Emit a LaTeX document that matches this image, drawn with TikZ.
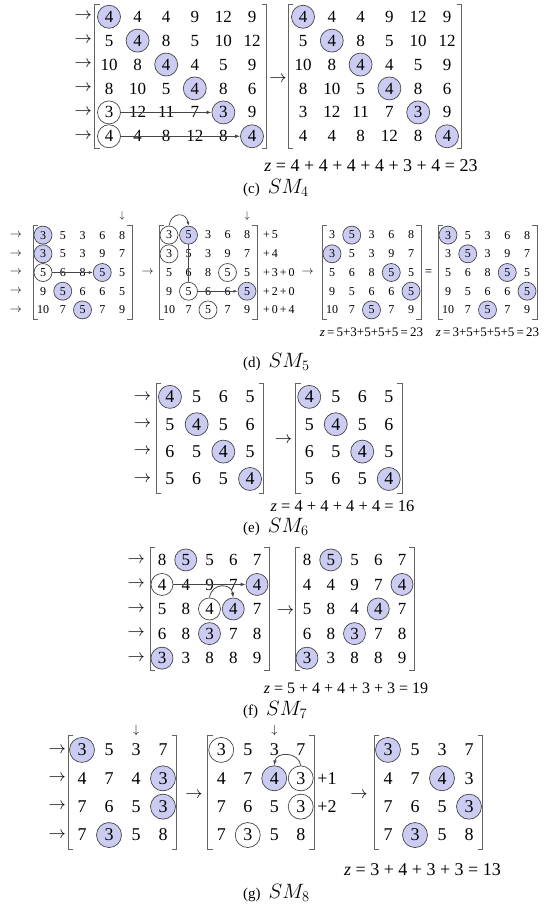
\documentclass[tikz,border=0pt]{standalone}
\usepackage{fontspec}
\setmainfont{Liberation Serif}
\usepackage{xcolor}
\definecolor{smblue}{RGB}{204,204,242}
\definecolor{smring}{RGB}{70,70,70}
\definecolor{smgrey}{RGB}{100,100,100}
\usepackage{tikz}
\usetikzlibrary{matrix,arrows.meta,positioning}
\newcommand{\mbrackets}[1]{%
  \draw[brk] ([xshift=5pt]#1.north west) -- (#1.north west) -- (#1.south west) -- ([xshift=5pt]#1.south west);
  \draw[brk] ([xshift=-5pt]#1.north east) -- (#1.north east) -- (#1.south east) -- ([xshift=-5pt]#1.south east);}
\newcommand{\smname}[1]{{\fontsize{20}{20}\selectfont$SM_{#1}$}}
\tikzset{
  csize/.style={minimum size=20pt},
  mat/.style n args={4}{matrix of nodes, inner sep=0pt, column sep=0pt, row sep=0pt,
    nodes={minimum width=#1, minimum height=#2, inner sep=0pt, font=\fontsize{#4}{#4}\selectfont},
    csize/.style={minimum size=#3}},
  hl/.style={circle, draw=smring, fill=smblue, line width=0.7pt, csize},
  ring/.style={circle, draw=smring, line width=0.7pt, csize},
  brk/.style={draw=smgrey, line width=0.8pt},
  txt/.style={inner sep=0pt, font=\fontsize{#1}{#1}\selectfont},
  subcap/.style={anchor=west, inner sep=0pt, font=\fontsize{15}{15}\selectfont},
  arr/.style={-{Latex[length=5pt,width=3.6pt]}, draw=smring, line width=0.8pt},
  arrs/.style={-{Latex[length=4pt,width=3pt]}, draw=smring, line width=0.7pt},
  lnk/.style={draw=smring, line width=0.7pt}
}

\begin{document}
\begin{tikzpicture}[x=1pt, y=-1pt]
  \useasboundingbox (0,0) rectangle (554,905);
  % (c) SM_4
  \matrix[mat={28.6pt}{23.8pt}{23pt}{17}] (c1) at (180.5,76.5) {
    |[hl]|4 & 4 & 4 & 9 & 12 & 9 \\
    5 & |[hl]|4 & 8 & 5 & 10 & 12 \\
    10 & 8 & |[hl]|4 & 4 & 5 & 9 \\
    8 & 10 & 5 & |[hl]|4 & 8 & 6 \\
    |[ring]|3 & 12 & 11 & 7 & |[hl]|3 & 9 \\
    |[ring]|4 & 4 & 8 & 12 & 8 & |[hl]|4 \\
  };
  \matrix[mat={28.8pt}{23.8pt}{23pt}{17}] (c2) at (375,76.5) {
    |[hl]|4 & 4 & 4 & 9 & 12 & 9 \\
    5 & |[hl]|4 & 8 & 5 & 10 & 12 \\
    10 & 8 & |[hl]|4 & 4 & 5 & 9 \\
    8 & 10 & 5 & |[hl]|4 & 8 & 6 \\
    3 & 12 & 11 & 7 & |[hl]|3 & 9 \\
    4 & 4 & 8 & 12 & 8 & |[hl]|4 \\
  };
  \mbrackets{c1}
  \mbrackets{c2}
  \foreach \r in {1,...,6}
    \node[txt=17] (cm\r) at ([xshift=-11.2pt]c1.west |- c1-\r-1) {$\rightarrow$};
  \node[txt=17] (cto) at (278,79) {$\rightarrow$};
  \draw[arr] (c1-5-1) -- (c1-5-5);
  \draw[arr] (c1-6-1) -- (c1-6-6);
  \node[txt=18] (cz) at (371,166) {\textit{z} = 4 + 4 + 4 + 4 + 3 + 4 = 23};
  \node[subcap] (ccap) at (243,188) {(c)\hspace{8pt}\smname{4}};

  % (d) SM_5
  \matrix[mat={19.75pt}{18.25pt}{18pt}{12}] (d1) at (82.5,272.5) {
    |[hl]|3 & 5 & 3 & 6 & 8 \\
    |[hl]|3 & 5 & 3 & 9 & 7 \\
    |[ring]|5 & 6 & 8 & |[hl]|5 & 5 \\
    9 & |[hl]|5 & 6 & 6 & 5 \\
    10 & 7 & |[hl]|5 & 7 & 9 \\
  };
  \matrix[mat={19.5pt}{18.25pt}{18pt}{12}] (d2) at (208,272.5) {
    |[ring]|3 & |[hl]|5 & 3 & 6 & 8 \\
    |[ring]|3 & 5 & 3 & 9 & 7 \\
    5 & 6 & 8 & |[ring]|5 & 5 \\
    9 & |[ring]|5 & 6 & 6 & |[hl]|5 \\
    10 & 7 & |[ring]|5 & 7 & 9 \\
  };
  \matrix[mat={19.75pt}{18.25pt}{18pt}{12}] (d3) at (371.5,272.5) {
    3 & |[hl]|5 & 3 & 6 & 8 \\
    |[hl]|3 & 5 & 3 & 9 & 7 \\
    5 & 6 & 8 & |[hl]|5 & 5 \\
    9 & 5 & 6 & 6 & |[hl]|5 \\
    10 & 7 & |[hl]|5 & 7 & 9 \\
  };
  \matrix[mat={19.75pt}{18.25pt}{18pt}{12}] (d4) at (487.5,272.5) {
    |[hl]|3 & 5 & 3 & 6 & 8 \\
    3 & |[hl]|5 & 3 & 9 & 7 \\
    5 & 6 & 8 & |[hl]|5 & 5 \\
    9 & 5 & 6 & 6 & |[hl]|5 \\
    10 & 7 & |[hl]|5 & 7 & 9 \\
  };
  \mbrackets{d1}
  \mbrackets{d2}
  \mbrackets{d3}
  \mbrackets{d4}
  \foreach \r in {1,...,5}
    \node[txt=12] (dm\r) at ([xshift=-17pt]d1.west |- d1-\r-1) {$\rightarrow$};
  \node[txt=10] (dv1) at ([yshift=10pt]d1-1-5.north) {$\downarrow$};
  \node[txt=10] (dv2) at ([yshift=10pt]d2-1-5.north) {$\downarrow$};
  \node[txt=12] (dto1) at (147.5,272.5) {$\rightarrow$};
  \node[txt=12, anchor=west] (dp1) at ([xshift=6pt]d2.east |- d2-1-5) {+\,5};
  \node[txt=12, anchor=west] (dp2) at ([xshift=6pt]d2.east |- d2-2-5) {+\,4};
  \node[txt=12, anchor=west] (dp3) at ([xshift=6pt]d2.east |- d2-3-5) {+\,3\,+\,0};
  \node[txt=12, anchor=west] (dp4) at ([xshift=6pt]d2.east |- d2-4-5) {+\,2\,+\,0};
  \node[txt=12, anchor=west] (dp5) at ([xshift=6pt]d2.east |- d2-5-5) {+\,0\,+\,4};
  \node[txt=12] (dto2) at (307.5,272.5) {$\rightarrow$};
  \node[txt=13] (deq) at (428.5,272.5) {=};
  \draw[arrs] (d1-3-1) -- (d1-3-4);
  \draw[lnk] (d2-1-2) -- (d2-4-2);
  \draw[arrs] (d2-4-2) -- (d2-4-5);
  \draw[arrs] (d2-1-1.north) .. controls +(2,-14) and +(-2,-14) .. (d2-1-2.north);
  \node[txt=13] (dz1) at (371.5,332) {\textit{z}\,=\,5+3+5+5+5\,=\,23};
  \node[txt=13] (dz2) at (487.5,332) {\textit{z}\,=\,3+5+5+5+5\,=\,23};
  \node[subcap] (dcap) at (243,362) {(d)\hspace{8pt}\smname{5}};

  % (e) SM_6
  \matrix[mat={26.7pt}{27.3pt}{23pt}{18}] (e1) at (210,438) {
    |[hl]|4 & 5 & 6 & 5 \\
    5 & |[hl]|4 & 5 & 6 \\
    6 & 5 & |[hl]|4 & 5 \\
    5 & 6 & 5 & |[hl]|4 \\
  };
  \matrix[mat={26.5pt}{27.3pt}{23pt}{18}] (e2) at (349,438) {
    |[hl]|4 & 5 & 6 & 5 \\
    5 & |[hl]|4 & 5 & 6 \\
    6 & 5 & |[hl]|4 & 5 \\
    5 & 6 & 5 & |[hl]|4 \\
  };
  \mbrackets{e1}
  \mbrackets{e2}
  \foreach \r in {1,...,4}
    \node[txt=18] (em\r) at ([xshift=-14pt]e1.west |- e1-\r-1) {$\rightarrow$};
  \node[txt=18] (eto) at (283.5,440) {$\rightarrow$};
  \node[txt=16.5] (ez) at (342.5,506) {\textit{z} = 4 + 4 + 4 + 4 = 16};
  \node[subcap] (ecap) at (243,527) {(e)\hspace{8pt}\smname{6}};

  % (f) SM_7
  \matrix[mat={23.75pt}{24.5pt}{22pt}{17}] (f1) at (209.5,609) {
    8 & |[hl]|5 & 5 & 6 & 7 \\
    |[ring]|4 & 4 & 9 & 7 & |[hl]|4 \\
    5 & 8 & |[ring]|4 & |[hl]|4 & 7 \\
    6 & 8 & |[hl]|3 & 7 & 8 \\
    |[hl]|3 & 3 & 8 & 8 & 9 \\
  };
  \matrix[mat={23.75pt}{24.5pt}{22pt}{17}] (f2) at (354.5,609) {
    8 & |[hl]|5 & 5 & 6 & 7 \\
    4 & 4 & 9 & 7 & |[hl]|4 \\
    5 & 8 & 4 & |[hl]|4 & 7 \\
    6 & 8 & |[hl]|3 & 7 & 8 \\
    |[hl]|3 & 3 & 8 & 8 & 9 \\
  };
  \mbrackets{f1}
  \mbrackets{f2}
  \foreach \r in {1,...,5}
    \node[txt=17] (fm\r) at ([xshift=-13.6pt]f1.west |- f1-\r-1) {$\rightarrow$};
  \node[txt=17] (fto) at (285.5,611) {$\rightarrow$};
  \draw[arr] (f1-2-1) -- (f1-2-5);
  \draw[arr] (f1-3-3.north) .. controls +(2,-15) and +(-2,-15) .. (f1-3-4.north);
  \node[txt=16] (fz) at (346,688) {\textit{z} = 5 + 4 + 4 + 3 + 3 = 19};
  \node[subcap] (fcap) at (243,710) {(f)\hspace{8pt}\smname{7}};

  % (g) SM_8
  \matrix[mat={27pt}{28.3pt}{25pt}{18}] (g1) at (122.5,792.5) {
    |[hl]|3 & 5 & 3 & 7 \\
    4 & 7 & 4 & |[hl]|3 \\
    7 & 6 & 5 & |[hl]|3 \\
    7 & |[hl]|3 & 5 & 8 \\
  };
  \matrix[mat={26.5pt}{28.3pt}{25pt}{18}] (g2) at (261,792.5) {
    |[ring]|3 & 5 & 3 & 7 \\
    4 & 7 & |[hl]|4 & |[ring]|3 \\
    7 & 6 & 5 & |[ring]|3 \\
    7 & |[ring]|3 & 5 & 8 \\
  };
  \matrix[mat={27pt}{28.3pt}{25pt}{18}] (g3) at (428.5,792.5) {
    |[hl]|3 & 5 & 3 & 7 \\
    4 & 7 & |[hl]|4 & 3 \\
    7 & 6 & 5 & |[hl]|3 \\
    7 & |[hl]|3 & 5 & 8 \\
  };
  \mbrackets{g1}
  \mbrackets{g2}
  \mbrackets{g3}
  \foreach \r in {1,...,4}
    \node[txt=18] (gm\r) at ([xshift=-11pt]g1.west |- g1-\r-1) {$\rightarrow$};
  \node[txt=12] (gv1) at ([yshift=5pt]g1-1-3.north) {$\downarrow$};
  \node[txt=12] (gv2) at ([yshift=5pt]g2-1-3.north) {$\downarrow$};
  \node[txt=18] (gto1) at (194,795) {$\rightarrow$};
  \node[txt=18] (gto2) at (359,795) {$\rightarrow$};
  \node[txt=18, anchor=west] (gp1) at ([xshift=3pt]g2.east |- g2-2-4) {+1};
  \node[txt=18, anchor=west] (gp2) at ([xshift=3pt]g2.east |- g2-3-4) {+2};
  \draw[arr] (g2-2-4.north) .. controls +(-2,-14) and +(2,-14) .. (g2-2-3.north);
  \node[txt=18] (gz) at (422.5,870) {\textit{z} = 3 + 4 + 3 + 3 = 13};
  \node[subcap] (gcap) at (243,893) {(g)\hspace{8pt}\smname{8}};
\end{tikzpicture}
\end{document}
